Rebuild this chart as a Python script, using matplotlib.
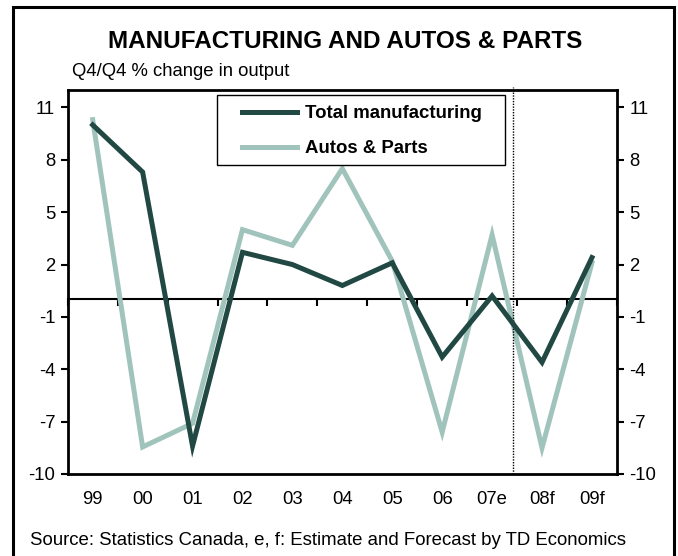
import numpy as np
import matplotlib
matplotlib.use("Agg")
import matplotlib.pyplot as plt
from matplotlib.patches import Rectangle

plt.rcParams['font.family'] = ['Liberation Sans', 'DejaVu Sans']
plt.rcParams['axes.unicode_minus'] = False

# data (Q4/Q4 % change in output)
years = ["99", "00", "01", "02", "03", "04", "05", "06", "07e", "08f", "09f"]
total_mfg = [10.0, 7.3, -8.4, 2.7, 2.0, 0.8, 2.1, -3.3, 0.2, -3.6, 2.4]
autos_parts = [10.3, -8.45, -7.1, 4.0, 3.1, 7.5, 2.2, -7.6, 3.7, -8.5, 2.1]
yticks = [11, 8, 5, 2, -1, -4, -7, -10]

dark = "#214843"
light = "#A0C4BB"

fig = plt.figure(figsize=(6.78, 5.56), dpi=100)
ax = fig.add_axes([0.0999, 0.1475, 0.810, 0.6906])

x = np.arange(len(years))
ax.plot(x, total_mfg, color=dark, lw=3.6, solid_joinstyle='miter', label="Total manufacturing", zorder=3)
ax.plot(x, autos_parts, color=light, lw=3.6, solid_joinstyle='miter', label="Autos & Parts", zorder=2)

ax.set_xlim(-0.5, len(years) - 0.5)
ax.set_ylim(-10, 12)

# y axis on both sides
ax.set_yticks(yticks)
ax.tick_params(axis='y', left=True, right=True, labelleft=True, labelright=True,
               direction='out', length=5, width=1.5, labelsize=13.3, pad=4)
ax.set_xticks(x)
ax.set_xticklabels(years)
ax.tick_params(axis='x', length=0, labelsize=13.3, pad=12)
for s in ax.spines.values():
    s.set_linewidth(2)

# zero line with category boundary ticks
zero_ax = ax.secondary_xaxis(0, transform=ax.transData)
zero_ax.set_xticks(np.arange(len(years) + 1) - 0.5)
zero_ax.tick_params(axis='x', direction='out', length=5, width=1.5, labelbottom=False)
zero_ax.spines['bottom'].set_linewidth(1.5)

# estimate / forecast divider
ax.axvline(8.42, ymin=0, ymax=1.008, color='black', lw=1, ls=(0, (1, 1)), clip_on=False)

# legend with a hand-placed frame
leg = ax.legend(loc='upper left', bbox_to_anchor=(0.3173, 0.960), frameon=False,
                prop={'weight': 'bold', 'size': 13.4},
                handlelength=2.96, handletextpad=0.43, labelspacing=0.95, borderpad=0,
                borderaxespad=0)
ax.add_patch(Rectangle((0.2718, 0.805), 0.796 - 0.2718, 0.987 - 0.805, transform=ax.transAxes,
                       fill=True, facecolor='white', edgecolor='black', lw=1, zorder=4))
leg.set_zorder(5)

fig.text(0.509, 0.925, "MANUFACTURING AND AUTOS & PARTS", ha='center', va='center',
         fontsize=17.5, fontweight='bold')
fig.text(0.106, 0.871, "Q4/Q4 % change in output", ha='left', va='center', fontsize=13.3)
fig.text(0.044, 0.028, "Source: Statistics Canada, e, f: Estimate and Forecast by TD Economics",
         ha='left', va='center', fontsize=13.4)

fig.patches.append(Rectangle((13 / 678, -0.05), (674 - 13) / 678, 1.05 - 7 / 556,
                             transform=fig.transFigure, fill=False, lw=2.2, edgecolor='black'))

fig.savefig("out.png", dpi=100)
plt.close()
